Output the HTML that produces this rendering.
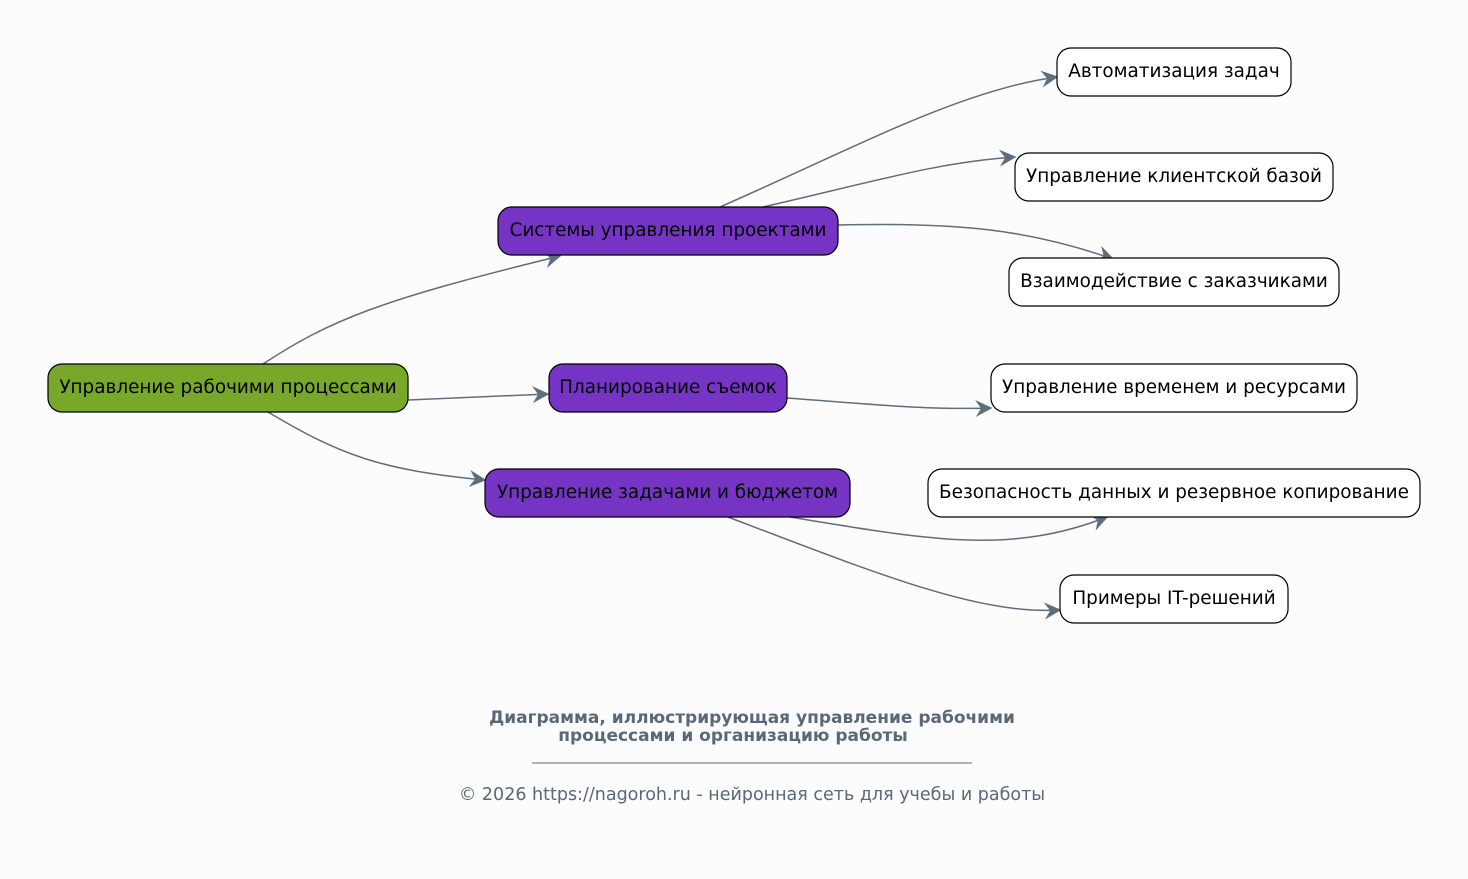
<!DOCTYPE html>
<html><head><meta charset="utf-8"><style>
html,body{margin:0;padding:0;background:#fcfcfc;}
svg{display:block}
text{font-family:"DejaVu Sans","Liberation Sans",sans-serif;}
</style></head><body>
<svg width="1468" height="879" viewBox="0 0 1468 879" xmlns="http://www.w3.org/2000/svg">
<rect width="1468" height="879" fill="#fcfcfc"/>
<defs>
<marker id="a" viewBox="0 0 12 12" refX="11" refY="6" markerWidth="17" markerHeight="17" markerUnits="userSpaceOnUse" orient="auto">
<path d="M0,0 L12,6 L0,12 L4,6 z" fill="#5f6e7d"/>
</marker>
</defs>
<g fill="none" stroke="#5f6e7d" stroke-width="1.5" marker-end="url(#a)">
<path d="M263,364 C330,320 380,300 560,256"/>
<path d="M408,400 L548,394"/>
<path d="M268,412 C340,455 380,470 485,480"/>
<path d="M720,207 C850,150 960,90 1057,77"/>
<path d="M763,207 C880,180 940,162 1015,157"/>
<path d="M838,225 C960,222 1030,230 1113,259"/>
<path d="M787,398 C880,405 930,410 991,408"/>
<path d="M790,517 C930,540 1010,555 1107,517"/>
<path d="M728,517 C880,575 980,615 1060,610"/>
</g>
<g stroke="#000" stroke-width="1.2">
<rect x="48" y="364" width="360" height="48" rx="14" fill="#78a82a"/>
<rect x="498" y="207" width="340" height="48" rx="14" fill="#7534c4"/>
<rect x="549" y="364" width="238" height="48" rx="14" fill="#7534c4"/>
<rect x="485" y="469" width="365" height="48" rx="14" fill="#7534c4"/>
<rect x="1057" y="48" width="234" height="48" rx="14" fill="#fff"/>
<rect x="1015" y="153" width="318" height="48" rx="14" fill="#fff"/>
<rect x="1009" y="258" width="330" height="48" rx="14" fill="#fff"/>
<rect x="991" y="364" width="366" height="48" rx="14" fill="#fff"/>
<rect x="928" y="469" width="492" height="48" rx="14" fill="#fff"/>
<rect x="1060" y="575" width="228" height="48" rx="14" fill="#fff"/>
</g>
<g font-size="18.4" fill="#000" text-anchor="middle">
<text x="228" y="393">Управление рабочими процессами</text>
<text x="668" y="236">Системы управления проектами</text>
<text x="668" y="393">Планирование съемок</text>
<text x="667.5" y="498">Управление задачами и бюджетом</text>
<text x="1174" y="77">Автоматизация задач</text>
<text x="1174" y="182">Управление клиентской базой</text>
<text x="1174" y="287">Взаимодействие с заказчиками</text>
<text x="1174" y="393">Управление временем и ресурсами</text>
<text x="1174" y="498">Безопасность данных и резервное копирование</text>
<text x="1174" y="604">Примеры IT-решений</text>
</g>
<g text-anchor="middle" fill="#5a6878">
<text x="752" y="723" font-size="17" font-weight="bold">Диаграмма, иллюстрирующая управление рабочими</text>
<text x="733" y="741" font-size="17" font-weight="bold">процессами и организацию работы</text>
<text x="752" y="800" font-size="17.5">© 2026 https://nagoroh.ru - нейронная сеть для учебы и работы</text>
</g>
<line x1="532" y1="763" x2="972" y2="763" stroke="#5a6878" stroke-width="1"/>
</svg>
</body></html>
